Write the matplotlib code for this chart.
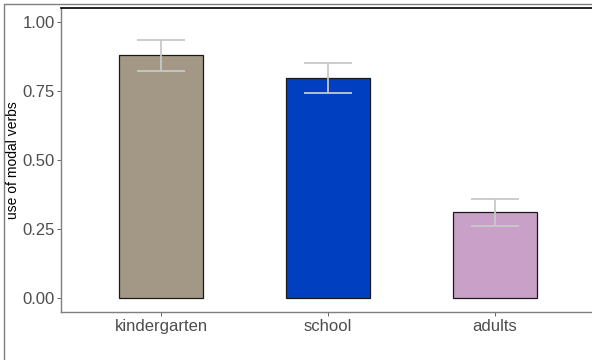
import matplotlib
matplotlib.use("Agg")
import matplotlib.pyplot as plt
from matplotlib.patches import Rectangle

categories = ["kindergarten", "school", "adults"]
values = [0.880, 0.797, 0.312]
err_low = [0.822, 0.743, 0.261]
err_high = [0.935, 0.851, 0.359]
colors = ["#A39886", "#0040C0", "#C8A0C8"]
yticks = [0.00, 0.25, 0.50, 0.75, 1.00]
ytick_labels = ["0.00", "0.25", "0.50", "0.75", "1.00"]

plt.rcParams['font.family'] = ['Liberation Sans', 'DejaVu Sans']

W, H = 592, 360
fig = plt.figure(figsize=(W / 100, H / 100), dpi=100)

# outer panel border (cropped)
fig.patches.append(Rectangle((4 / W, -0.1), 1.2, (H - 4) / H + 0.1, transform=fig.transFigure,
                             fill=False, edgecolor="#7f7f7f", linewidth=1.0))

left, right, top, bottom = 61, 595, 8, 312
ax = fig.add_axes([left / W, 1 - bottom / H, (right - left) / W, (bottom - top) / H])

x = list(range(1, len(categories) + 1))
ax.bar(x, values, width=0.5, color=colors, edgecolor="#1a1a1a", linewidth=0.9, zorder=2)
yerr = [[v - l for v, l in zip(values, err_low)], [h - v for v, h in zip(values, err_high)]]
ax.errorbar(x, values, yerr=yerr, fmt="none", ecolor="#c8c8c8", elinewidth=1.3,
            capsize=17, capthick=1.3, zorder=3)

ax.set_xlim(0.4, 3.6)
ax.set_ylim(-0.05, 1.05)
ax.set_xticks(x)
ax.set_xticklabels(categories)
ax.set_yticks(yticks)
ax.set_yticklabels(ytick_labels)
ax.tick_params(axis="both", colors="#4d4d4d", labelcolor="#4d4d4d", labelsize=12,
               length=3, width=0.6, pad=2)
ax.tick_params(axis="y", pad=1.5)

ax.spines["top"].set_color("black")
ax.spines["top"].set_linewidth(1.2)
ax.spines["left"].set_color("#7f7f7f")
ax.spines["bottom"].set_color("#7f7f7f")
ax.spines["right"].set_visible(False)
for s in ["left", "bottom"]:
    ax.spines[s].set_linewidth(1.0)

fig.text(13 / W, 1 - 160 / H, "use of modal verbs", rotation=90, fontsize=10,
         ha="center", va="center", color="black")

fig.savefig("out.png", dpi=100)
